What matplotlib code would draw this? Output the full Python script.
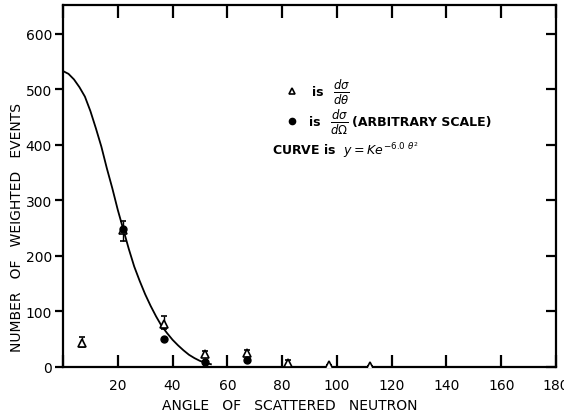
import matplotlib
matplotlib.use("Agg")
import matplotlib.pyplot as plt
import matplotlib.lines as mlines

# measured points, triangles = dsigma/dtheta
tri_angle = [7, 22, 37, 52, 67, 82, 97, 112]
tri_val = [43, 246, 78, 23, 25, 8, 3, 2]
tri_lo = [36, 227, 68, 18, 20, 2, 3, 2]
tri_hi = [54, 263, 91, 29, 30, 13, 3, 2]

# dots = dsigma/dOmega (arbitrary scale)
dot_angle = [22, 37, 52, 67]
dot_val = [249, 50, 9, 13]

# hand-drawn fit curve
curve_angle = [0, 2, 4, 6, 8, 10, 12, 14, 16, 18, 20, 22, 24, 26, 28,
               30, 32, 34, 36, 38, 40, 42, 44, 46, 48, 50, 52, 54]
curve_val = [533, 528, 518, 504, 487, 461, 430, 397, 358, 322, 283, 248, 213,
             181, 155, 131, 110, 91, 74, 61, 49, 39, 30, 22, 16, 11, 7.5, 5]

x_ticks = [0, 20, 40, 60, 80, 100, 120, 140, 160, 180]
x_ticklabels = ['', '20', '40', '60', '80', '100', '120', '140', '160', '180']
y_ticks = [0, 100, 200, 300, 400, 500, 600]
y_ticklabels = ['0', '100', '200', '300', '400', '500', '600']

plt.rcParams['font.family'] = ['DejaVu Sans']
plt.rcParams['mathtext.fontset'] = 'dejavusans'

W, H = 564, 414
fig = plt.figure(figsize=(W / 100, H / 100), dpi=100)
ax = fig.add_axes([63 / W, 1 - 368 / H, (556 - 63) / W, (368 - 6) / H])

ax.plot(curve_angle, curve_val, color='black', lw=1.3, zorder=3)

err_lo = [v - l for v, l in zip(tri_val, tri_lo)]
err_hi = [h - v for v, h in zip(tri_val, tri_hi)]
ax.errorbar(tri_angle, tri_val, yerr=[err_lo, err_hi], fmt='^', ms=5.5,
            mfc='white', mec='black', mew=1.2, ecolor='black', elinewidth=1.0,
            capsize=2.5, capthick=1.0, zorder=4)
ax.plot(dot_angle, dot_val, 'o', color='black', ms=5, zorder=5)

ax.set_xlim(0, 180)
ax.set_ylim(0, 652)
ax.set_xticks(x_ticks)
ax.set_xticklabels(x_ticklabels)
ax.set_yticks(y_ticks)
ax.set_yticklabels(y_ticklabels)

for s in ax.spines.values():
    s.set_linewidth(1.6)

ax.tick_params(axis='x', which='both', direction='in', length=9, width=1.6,
               top=True, labelsize=10, pad=8)
ax.tick_params(axis='y', which='both', direction='out', length=6, width=1.6,
               right=True, labelsize=10, pad=2)
# left ticks stay outside, right ticks point into the plot
for t in ax.yaxis.get_major_ticks():
    t.tick2line.set_marker(mlines.TICKLEFT)
    t.tick2line.set_markersize(7)

# key
ax.plot([83.5], [497], '^', ms=5, mfc='white', mec='black', mew=1.2)
ax.text(91, 497, 'is', fontsize=9, va='center', fontweight='bold')
ax.text(98.5, 497, r'$\frac{d\sigma}{d\theta}$', fontsize=12, va='center')
ax.plot([83.5], [443], 'o', color='black', ms=4.5)
ax.text(90, 443, 'is', fontsize=9, va='center', fontweight='bold')
ax.text(97.5, 443, r'$\frac{d\sigma}{d\Omega}$', fontsize=12, va='center')
ax.text(105.5, 443, '(ARBITRARY SCALE)', fontsize=9, va='center',
        fontweight='bold')
ax.text(76.3, 393, r'CURVE is  $y = Ke^{-6.0\ \theta^2}$', fontsize=9,
        va='center', fontweight='bold')

fig.text(290 / W, 1 - 406 / H, 'ANGLE   OF   SCATTERED   NEUTRON',
         ha='center', va='center', fontsize=10)
fig.text(17 / W, 1 - 228 / H, 'NUMBER   OF   WEIGHTED   EVENTS',
         ha='center', va='center', rotation=90, fontsize=10)

fig.savefig('out.png', dpi=100)
